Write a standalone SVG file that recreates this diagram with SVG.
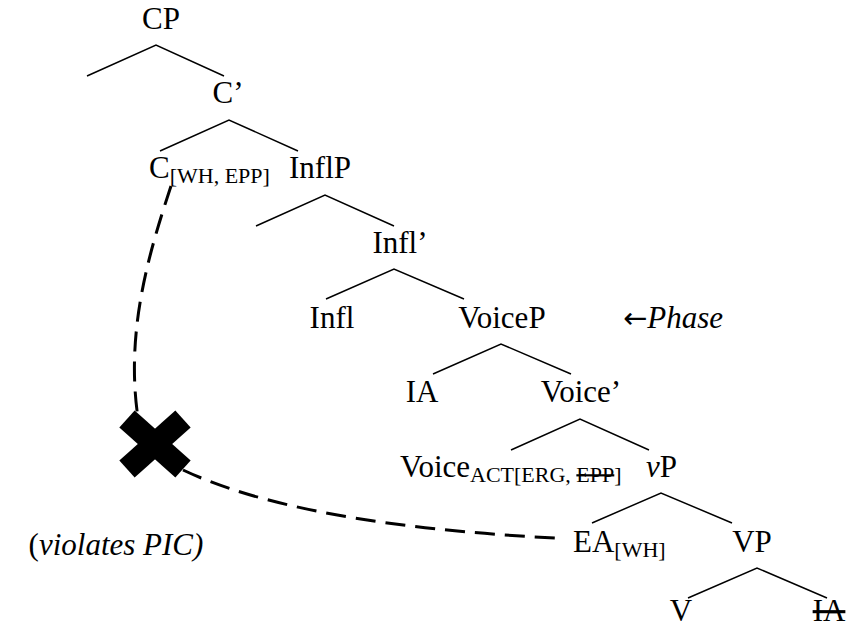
<svg xmlns="http://www.w3.org/2000/svg" width="846" height="629" viewBox="0 0 846 629">
<style>
  text { font-family: "Liberation Serif", "Times New Roman", serif; font-size: 31px; fill: #000; }
  .m { text-anchor: middle; }
  .sub { font-size: 22px; }
  .it { font-style: italic; }
  .strike { text-decoration: line-through; }
  .branch { fill: none; stroke: #000; stroke-width: 1.5; }
  .dash { fill: none; stroke: #000; stroke-width: 3; stroke-dasharray: 20 10; }
</style>
<rect width="846" height="629" fill="#fff"/>
<g id="connectors">
  <polyline class="branch" points="87,76 156,45 224,76"/>
  <polyline class="branch" points="160,151 229,120 298,151"/>
  <polyline class="branch" points="256,226 325,195 394,226"/>
  <polyline class="branch" points="326,299 394,269 464,299"/>
  <polyline class="branch" points="433,374 501,344 571,374"/>
  <polyline class="branch" points="511,450 580,419 649,450"/>
  <polyline class="branch" points="592,523 661,493 732,523"/>
  <polyline class="branch" points="688,598 757,568 827,598"/>
  <path class="dash" d="M171,186 C150,250 125,330 138,418"/>
  <path class="dash" d="M183,470 Q300,525 555,538"/>
</g>
<g id="x-mark">
  <line x1="127" y1="419" x2="183" y2="469" stroke="#000" stroke-width="23"/>
  <line x1="183" y1="419" x2="127" y2="469" stroke="#000" stroke-width="23"/>
</g>
<g id="n-CP"><text class="m" x="161" y="29">CP</text></g>
<g id="n-Cbar"><text class="m" x="228" y="103">C’</text></g>
<g id="n-C"><text x="149" y="178">C<tspan class="sub" dy="5">[WH, EPP]</tspan></text></g>
<g id="n-InflP"><text class="m" x="320" y="178">InflP</text></g>
<g id="n-Inflbar"><text class="m" x="400" y="253">Infl’</text></g>
<g id="n-Infl"><text class="m" x="332" y="328">Infl</text></g>
<g id="n-VoiceP"><text class="m" x="502" y="328">VoiceP</text></g>
<g id="n-Phase"><text x="623" y="328"><tspan font-family="'DejaVu Sans', sans-serif" font-size="29">←</tspan><tspan class="it">Phase</tspan></text></g>
<g id="n-IA1"><text class="m" x="422" y="402">IA</text></g>
<g id="n-Voicebar"><text class="m" x="581" y="402">Voice’</text></g>
<g id="n-Voice"><text x="400" y="477">Voice<tspan class="sub" dy="5">ACT[ERG, <tspan class="strike">EPP</tspan>]</tspan></text></g>
<g id="n-vP"><text x="646" y="477"><tspan class="it">v</tspan>P</text></g>
<g id="n-PIC"><text x="116" y="555" text-anchor="middle" font-size="29">(<tspan class="it">violates PIC)</tspan></text></g>
<g id="n-EA"><text x="573" y="552">EA<tspan class="sub" dy="5">[WH]</tspan></text></g>
<g id="n-VP"><text class="m" x="752" y="552">VP</text></g>
<g id="n-V"><text class="m" x="681" y="621">V</text></g>
<g id="n-IA2"><text class="m strike" x="829" y="621">IA</text></g>
</svg>
